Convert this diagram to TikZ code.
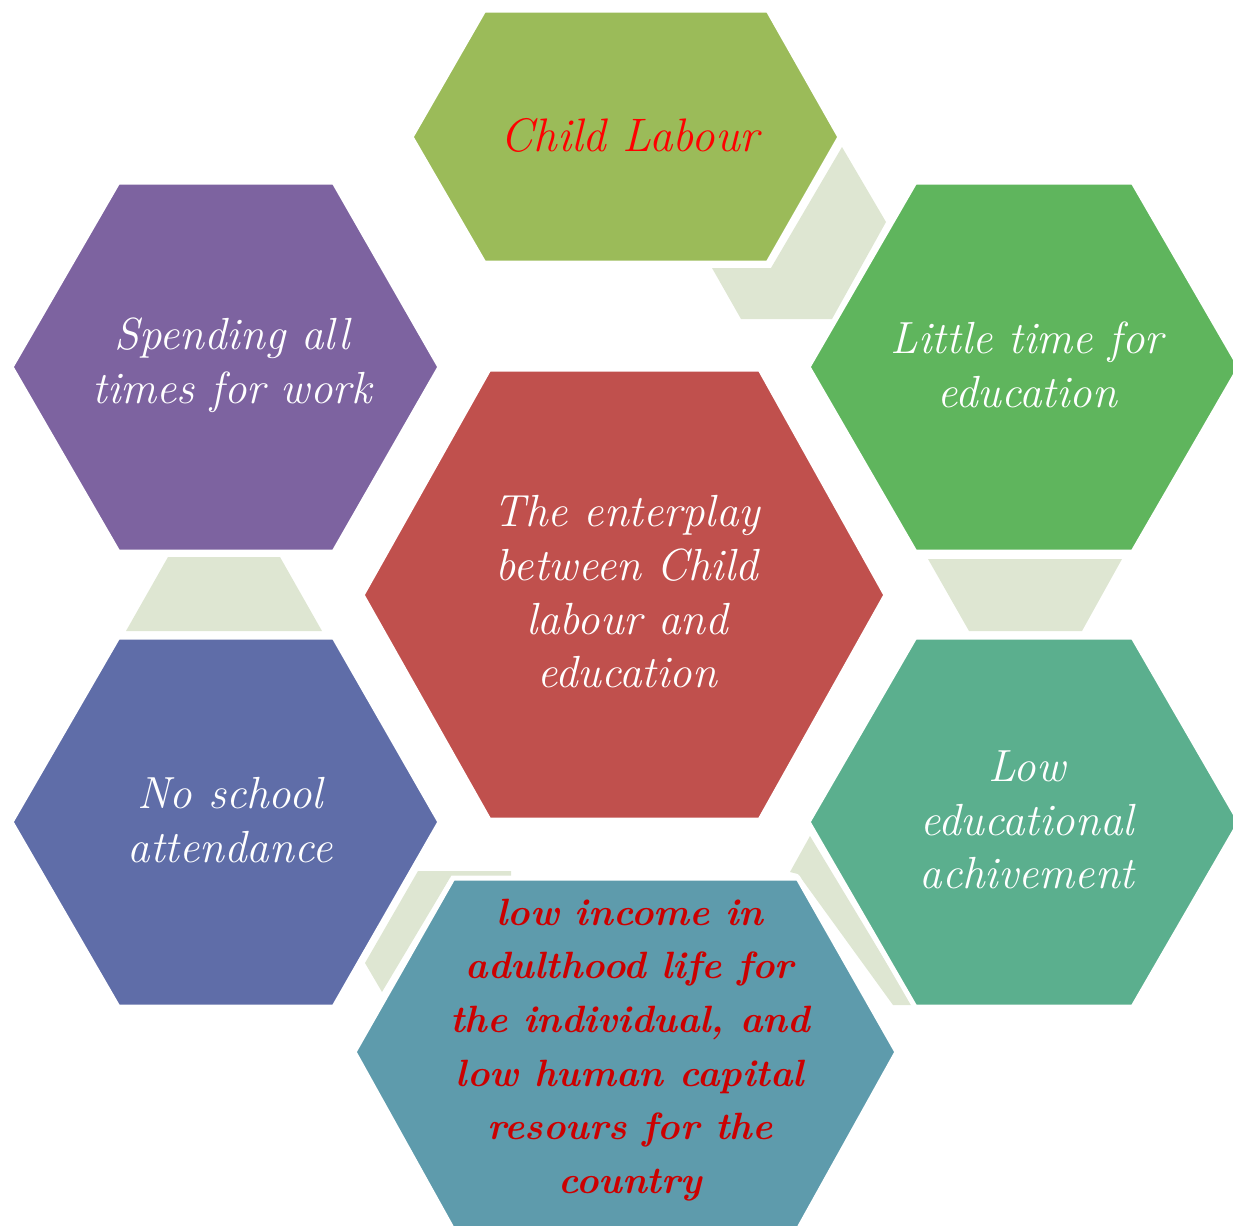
\documentclass[tikz,border=0pt]{standalone}
\usepackage{fontspec}
\definecolor{cOlive}{HTML}{9BBB59}
\definecolor{cGreen}{HTML}{5FB55D}
\definecolor{cPurple}{HTML}{7D63A0}
\definecolor{cRed}{HTML}{C0504D}
\definecolor{cBlue}{HTML}{5F6DA8}
\definecolor{cSea}{HTML}{5BAF8E}
\definecolor{cTeal}{HTML}{5E9BAC}
\definecolor{cPale}{HTML}{DEE6D2}
\definecolor{cTxtRed}{HTML}{FF0000}
\definecolor{cTxtDark}{HTML}{CC0000}
\begin{document}
\begin{tikzpicture}[x=0.5pt,y=-0.5pt,
  hexa/.style={draw=white,line width=2.5pt,line join=miter},
  pale/.style={fill=cPale},
  lbl/.style={align=center,text=white,inner sep=0pt,font=\fontsize{22.5}{26.8}\selectfont\itshape},
  redlbl/.style={align=center,text=cTxtRed,inner sep=0pt,font=\fontsize{23.5}{26.8}\selectfont\itshape},
  darklbl/.style={align=center,text=cTxtDark,inner sep=0pt,font=\fontsize{19}{26.8}\selectfont\bfseries\itshape}]
\useasboundingbox (0,0) rectangle (1233,1226);
\clip (0,0) rectangle (1233,1226);
% pale connecting pieces
\fill[pale] (842,147) -- (886,222) -- (832,319) -- (741,319) -- (712,268) -- (771,268) -- cycle;
\fill[pale] (928,559) -- (1122,559) -- (1082,631) -- (969,631) -- cycle;
\fill[pale] (168,557) -- (280,557) -- (322,631) -- (126,631) -- cycle;
\fill[pale] (810,836) -- (912,1005) -- (893,1005) -- (798,874) -- (790,872) -- cycle;
\fill[pale] (418,871) -- (511,871) -- (511,878) -- (450,878) -- (382,992) -- (365,963) -- cycle;
% hexagons
\filldraw[hexa,fill=cOlive] (411,137) -- (484,10) -- (768,10) -- (840,137) -- (768,263) -- (484,263) -- cycle;
\filldraw[hexa,fill=cGreen] (808,367) -- (915,182) -- (1133,182) -- (1240,367) -- (1133,552) -- (915,552) -- cycle;
\filldraw[hexa,fill=cPurple] (11,367) -- (118,182) -- (334,182) -- (440,367) -- (334,552) -- (118,552) -- cycle;
\filldraw[hexa,fill=cRed] (362,595) -- (489,369) -- (760,369) -- (886,595) -- (760,820) -- (489,820) -- cycle;
\filldraw[hexa,fill=cBlue] (11,822) -- (118,637) -- (334,637) -- (440,822) -- (334,1007) -- (118,1007) -- cycle;
\filldraw[hexa,fill=cSea] (808,822) -- (915,637) -- (1133,637) -- (1240,822) -- (1133,1007) -- (915,1007) -- cycle;
\filldraw[hexa,fill=cTeal] (354,1052) -- (453,878) -- (798,878) -- (897,1052) -- (798,1230) -- (453,1230) -- cycle;
% labels
\node[redlbl] (t1) at (630,135) {Child Labour};
\node[lbl] (t2) at (1027,365) {Little time for\\education};
\node[lbl] (t3) at (232,365) {Spending all\\times for work};
\node[lbl] (t4) at (627,592) {The enterplay\\between Child\\labour and\\education};
\node[lbl] (t5) at (230,820) {No school\\attendance};
\node[lbl] (t6) at (1027,820) {Low\\educational\\achivement};
\node[darklbl] (t7) at (630,1050) {low income in\\adulthood life for\\the individual, and\\low human capital\\resours for the\\country};
\end{tikzpicture}
\end{document}
